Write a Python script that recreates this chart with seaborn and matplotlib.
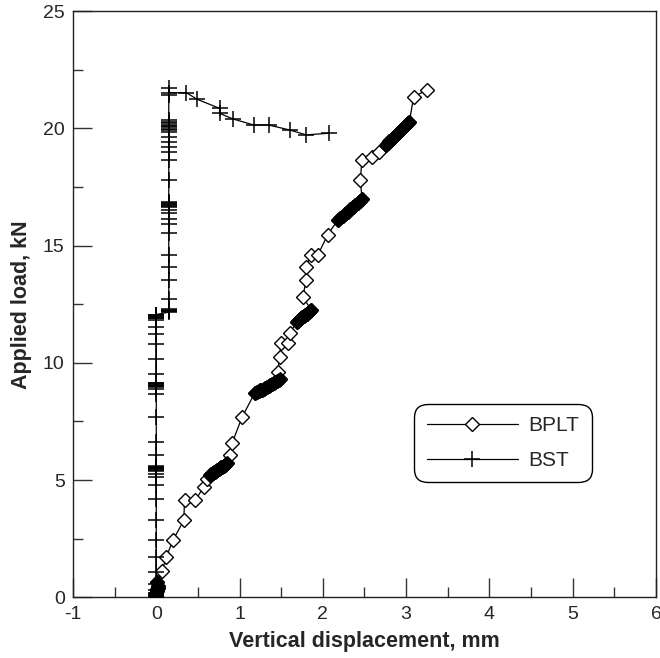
import numpy as np
import pandas as pd
import matplotlib
matplotlib.use("Agg")
import matplotlib.pyplot as plt
from matplotlib.ticker import MultipleLocator
import seaborn as sns

# ---------------- data ----------------
bplt_x = [0, 0, 0, 0, 0, 0, 0, 0, 0, 0.01, 0.01, 0.01, 0.02, 0.02, 0.01,
          0.07, 0.12, 0.2, 0.33, 0.34, 0.47, 0.57, 0.61,
          0.65, 0.66, 0.68, 0.69, 0.7, 0.72, 0.73, 0.75, 0.76, 0.78, 0.79, 0.81, 0.82, 0.84, 0.85,
          0.88, 0.91, 1.03, 1.18,
          1.21, 1.23, 1.25, 1.27, 1.29, 1.31, 1.33, 1.35, 1.37, 1.39, 1.41, 1.43, 1.45, 1.47, 1.49,
          1.46, 1.48, 1.5, 1.58, 1.6,
          1.69, 1.7, 1.72, 1.74, 1.75, 1.77, 1.79, 1.81, 1.83, 1.85, 1.86,
          1.76, 1.8, 1.8, 1.86, 1.94, 2.06,
          2.18, 2.21, 2.24, 2.27, 2.3, 2.33, 2.36, 2.39, 2.42, 2.45, 2.47,
          2.45, 2.47, 2.59, 2.67,
          2.76, 2.78, 2.8, 2.82, 2.84, 2.86, 2.88, 2.9, 2.92, 2.94, 2.96, 2.98, 3.0, 3.02, 3.04,
          3.09, 3.25]
bplt_y = [0, 0.02, 0.05, 0.08, 0.1, 0.12, 0.15, 0.18, 0.2, 0.25, 0.3, 0.35, 0.4, 0.5, 0.65,
          1.12, 1.72, 2.43, 3.28, 4.17, 4.14, 4.71, 5.06,
          5.22, 5.26, 5.3, 5.33, 5.36, 5.4, 5.43, 5.47, 5.5, 5.54, 5.57, 5.61, 5.64, 5.68, 5.72,
          6.06, 6.57, 7.68, 8.7,
          8.74, 8.78, 8.82, 8.86, 8.9, 8.94, 8.98, 9.02, 9.06, 9.1, 9.14, 9.18, 9.22, 9.26, 9.3,
          9.62, 10.26, 10.83, 10.83, 11.26,
          11.75, 11.8, 11.85, 11.9, 11.95, 12.0, 12.05, 12.1, 12.15, 12.2, 12.25,
          12.82, 13.53, 14.1, 14.6, 14.6, 15.47,
          16.09, 16.18, 16.27, 16.36, 16.45, 16.54, 16.63, 16.72, 16.81, 16.9, 16.99,
          17.8, 18.65, 18.79, 19.0,
          19.3, 19.37, 19.44, 19.51, 19.58, 19.65, 19.72, 19.79, 19.86, 19.93, 20.0, 20.07, 20.14, 20.21, 20.28,
          21.35, 21.63]

bst_x = [0] * 47 + [0.15] * 38 + [0.36, 0.49, 0.76, 0.76, 0.92, 1.17, 1.35, 1.6, 1.8, 2.07]
bst_y = [0, 0.02, 0.05, 0.1, 0.15, 0.2, 0.3, 0.58, 1.1, 1.72, 2.43, 3.3, 4.21, 4.78, 5.13,
         5.28, 5.4, 5.43, 5.46, 5.5, 5.53, 5.56, 5.6, 6.06, 6.62, 7.7, 8.69, 8.9, 8.97, 9.0,
         9.03, 9.06, 9.1, 9.13, 9.16, 9.54, 10.18, 10.82, 11.25, 11.53, 11.82, 11.9, 11.93,
         11.96, 12.0, 12.03, 12.06,
         12.16, 12.2, 12.23, 12.26, 12.3, 12.74, 13.52, 14.07, 14.59, 15.52, 15.94, 16.15,
         16.37, 16.51, 16.65, 16.69, 16.73, 16.77, 16.81, 16.85, 17.79, 18.64, 19.0, 19.2,
         19.42, 19.64, 19.85, 19.92, 19.98, 20.04, 20.1, 20.16, 20.22, 20.28, 20.34, 21.42,
         21.74, 21.52,
         21.52, 21.24, 20.85, 20.64, 20.4, 20.14, 20.14, 19.93, 19.72, 19.79]

series_names = ["BPLT", "BST"]
x_ticks = [-1, 0, 1, 2, 3, 4, 5, 6]
y_ticks = [0, 5, 10, 15, 20, 25]

# ---------------- plot ----------------
sns.set_style("ticks")
plt.rcParams["font.family"] = ["Liberation Sans", "DejaVu Sans"]
plt.rcParams["axes.unicode_minus"] = False

fig = plt.figure(figsize=(6.6, 6.58), dpi=100)
ax = fig.add_axes([0.1106, 0.0922, 0.8833, 0.891])

df_b = pd.DataFrame({"x": bplt_x, "y": bplt_y})
df_s = pd.DataFrame({"x": bst_x, "y": bst_y})

sns.lineplot(data=df_b, x="x", y="y", sort=False, estimator=None, ax=ax,
             color="black", linewidth=0.9, marker="D", markersize=7.0,
             markerfacecolor="white", markeredgecolor="black", markeredgewidth=1.0,
             label=series_names[0])

# densely recorded readings merge into solid black runs in the original print
px = df_b["x"].to_numpy() * 83.3
py = df_b["y"].to_numpy() * 23.45
d = np.hypot(np.diff(px), np.diff(py))
dense = np.zeros(len(px), dtype=bool)
dense[1:] |= d < 4.5
dense[:-1] |= d < 4.5
sns.scatterplot(data=df_b[dense], x="x", y="y", ax=ax, marker="D", s=49,
                color="black", edgecolor="black", linewidth=1.0, legend=False, zorder=3)

sns.lineplot(data=df_s, x="x", y="y", sort=False, estimator=None, ax=ax,
             color="black", linewidth=0.9, marker="+", markersize=11.5,
             markeredgecolor="black", markeredgewidth=1.1,
             label=series_names[1])

ax.set_xlim(-1, 6)
ax.set_ylim(0, 25)
ax.set_xticks(x_ticks)
ax.set_yticks(y_ticks)
ax.xaxis.set_minor_locator(MultipleLocator(0.5))
ax.yaxis.set_minor_locator(MultipleLocator(2.5))
ax.tick_params(which="major", direction="in", length=13.5, width=1.0, color="#333333",
               labelsize=14, pad=6, top=False, right=False)
ax.tick_params(which="minor", direction="in", length=7, width=1.0, color="#333333",
               top=False, right=False)
for s in ax.spines.values():
    s.set_linewidth(1.0)
    s.set_color("#222222")

ax.set_xlabel("Vertical displacement, mm", fontsize=15.5, fontweight="bold", labelpad=6)
ax.set_ylabel("Applied load, kN", fontsize=15.5, fontweight="bold", labelpad=8)

leg = ax.legend(loc="upper left", bbox_to_anchor=(0.585, 0.33), borderaxespad=0,
                fontsize=15, frameon=True, fancybox=True, handlelength=4.4,
                handletextpad=0.5, labelspacing=0.75, borderpad=0.6, numpoints=1)
frame = leg.get_frame()
frame.set_edgecolor("black")
frame.set_linewidth(1.0)
frame.set_alpha(1)
frame.set_boxstyle("round", pad=0, rounding_size=0.65)

fig.savefig("out.png", dpi=100)
